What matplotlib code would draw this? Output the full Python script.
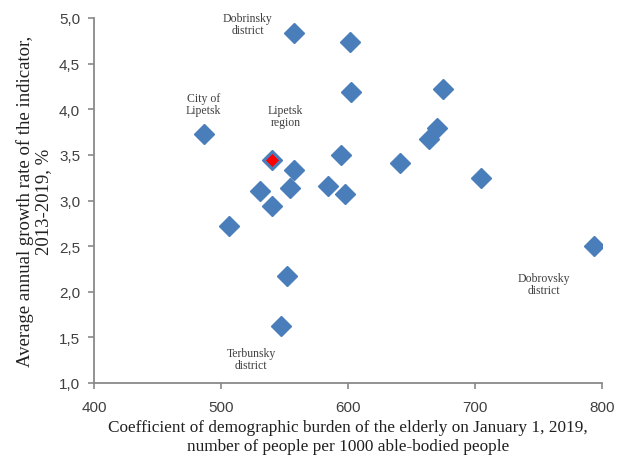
import matplotlib.pyplot as plt
import numpy as np

# coefficient of demographic burden (x) and average annual growth rate (y)
burden = [557.5, 601.6, 602.0, 674.8, 486.6, 557.5, 594.5, 663.8, 670.0, 641.0,
          530.7, 554.0, 584.0, 597.6, 704.7, 540.0, 506.3, 552.0, 547.0, 793.7]
growth = [4.84, 4.74, 4.19, 4.22, 3.73, 3.33, 3.50, 3.67, 3.79, 3.41,
          3.10, 3.14, 3.16, 3.07, 3.25, 2.94, 2.72, 2.17, 1.62, 2.50]

# Lipetsk region as a whole
region_x = [540.0]
region_y = [3.44]

labels = ["Dobrinsky\ndistrict", "City of\nLipetsk", "Lipetsk\nregion",
          "Terbunsky\ndistrict", "Dobrovsky\ndistrict"]
label_x = [521, 486, 551, 523.6, 754]
label_y = [4.93, 4.06, 3.93, 1.26, 2.08]

xticks = [400, 500, 600, 700, 800]
yticks = [1.0, 1.5, 2.0, 2.5, 3.0, 3.5, 4.0, 4.5, 5.0]

blue = '#4a7ebb'
grey = '#898989'

fig = plt.figure(figsize=(6.27, 4.60), dpi=100)
ax = fig.add_axes([94/627, 1 - 384/460, (602-94)/627, (384-19)/460])

ax.plot(burden, growth, linestyle='none', marker='D', markersize=10,
        color=blue, markeredgecolor=blue)
ax.plot(region_x, region_y, linestyle='none', marker='D', markersize=10,
        color=blue, markeredgecolor=blue)
ax.plot(region_x, region_y, linestyle='none', marker='D', markersize=6,
        markerfacecolor='#ff0000', markeredgecolor='#ff0000', markeredgewidth=0.5)

for t, lx, ly in zip(labels, label_x, label_y):
    ax.text(lx, ly, t, ha='center', va='center', fontsize=8.5,
            family='Liberation Serif', color='#404040', linespacing=1.0)

ax.set_xlim(400, 800)
ax.set_ylim(1.0, 5.0)
ax.set_xticks(xticks)
ax.set_yticks(yticks)
ax.set_xticklabels([str(v) for v in xticks])
ax.set_yticklabels([('%.1f' % v).replace('.', ',') for v in yticks])

for s in ['top', 'right']:
    ax.spines[s].set_visible(False)
for s in ['left', 'bottom']:
    ax.spines[s].set_color(grey)
    ax.spines[s].set_linewidth(1.3)
ax.tick_params(direction='out', length=4, width=1.2, color=grey,
               labelsize=11, labelcolor='#404040', pad=6)
ax.tick_params(axis='x', pad=8)
for lab in ax.get_xticklabels() + ax.get_yticklabels():
    lab.set_family('Liberation Sans')

ax.set_xlabel("Coefficient of demographic burden of the elderly on January 1, 2019,\n"
              "number of people per 1000 able-bodied people",
              family='Liberation Serif', fontsize=12.4, color='#202020',
              linespacing=1.2, labelpad=4)
ax.set_ylabel("Average annual growth rate of the indicator,\n2013-2019, %",
              family='Liberation Serif', fontsize=13.5, color='#202020',
              linespacing=1.05, labelpad=5)

fig.savefig('out.png', dpi=100)
